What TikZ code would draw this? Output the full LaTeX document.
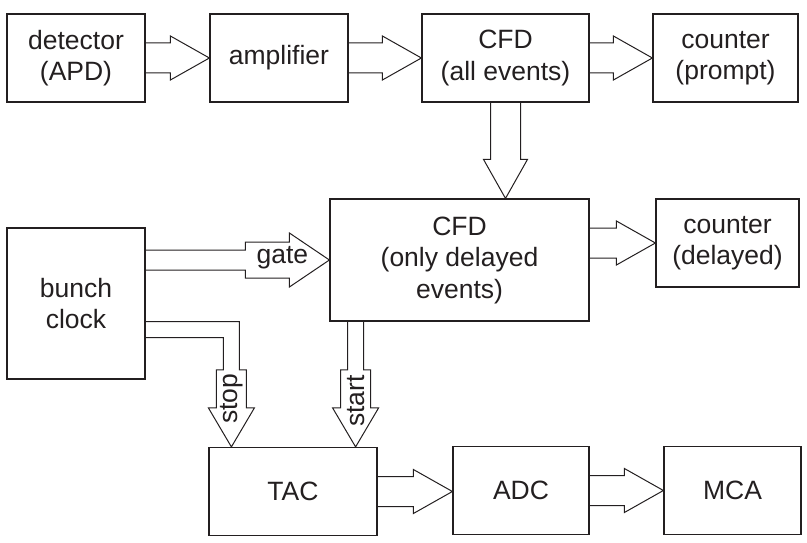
\documentclass[tikz,border=0pt]{standalone}
\usepackage{fontspec}
\setmainfont{Liberation Sans}
\usetikzlibrary{calc}

\definecolor{ink}{RGB}{35,31,32}

\tikzset{
  box/.style={draw=ink, line width=1.2pt, minimum height=88pt, inner sep=0pt,
    align=center, text=ink, font=\fontsize{26.5}{31.5}\selectfont},
  blockarrow/.style={draw=ink, line width=1pt, line join=miter},
  arrowlabel/.style={inner sep=0pt, text=ink, font=\fontsize{26.5}{31.5}\selectfont},
}

% hollow block arrow from #1 to the tip #2
\newcommand{\blockarrow}[2]{%
  \path (#1) coordinate (ba-s) (#2) coordinate (ba-e);
  \path ($(ba-e)!39pt!(ba-s)$) coordinate (ba-h);
  \draw[blockarrow] ($(ba-s)!15pt!90:(ba-e)$) -- ($(ba-h)!15pt!-90:(ba-s)$)
    -- ($(ba-h)!22pt!-90:(ba-s)$) -- (ba-e) -- ($(ba-h)!22pt!90:(ba-s)$)
    -- ($(ba-h)!15pt!90:(ba-s)$) -- ($(ba-s)!15pt!-90:(ba-e)$);
}

\begin{document}
\begin{tikzpicture}[x=1pt,y=-1pt]
    \useasboundingbox (0,0) rectangle (807,543);

    % top row
    \node[box, minimum width=138pt] (det) at (76,58) {detector\\(APD)};
    \node[box, minimum width=138pt] (amp) at (279,58) {amplifier};
    \node[box, minimum width=167pt] (cfdall) at (505.5,58) {CFD\\(all events)};
    \node[box, minimum width=145pt] (cntp) at (725.5,58) {counter\\(prompt)};

    % middle row
    \node[box, minimum width=138pt, minimum height=151pt] (clock) at (76,303.5) {bunch\\clock};
    \node[box, minimum width=259pt, minimum height=122pt] (cfdd) at (459.5,260) {CFD\\(only delayed\\events)};
    \node[box, minimum width=143pt] (cntd) at (727.5,243) {counter\\(delayed)};

    % bottom row
    \node[box, minimum width=168pt] (tac) at (293,491.5) {TAC};
    \node[box, minimum width=136pt] (adc) at (521,490.5) {ADC};
    \node[box, minimum width=137pt] (mca) at (732.5,490.5) {MCA};

    % plain arrows
    \blockarrow{det.east}{amp.west}
    \blockarrow{amp.east}{cfdall.west}
    \blockarrow{cfdall.east}{cntp.west}
    \blockarrow{cfdall.south}{cfdall.south |- cfdd.north}
    \blockarrow{cfdd.east |- cntd.west}{cntd.west}
    \blockarrow{tac.east}{tac.east -| adc.west}
    \blockarrow{adc.east}{mca.west}

    % gate
    \coordinate (gs) at (clock.east |- cfdd.west);
    \draw[blockarrow] ($(gs)+(0,-10)$) -- ($(cfdd.west)+(-84,-10)$)
      -- ($(cfdd.west)+(-84,-18)$) -- ($(cfdd.west)+(-40,-18)$)
      -- ($(cfdd.west)+(-40,-27)$) -- (cfdd.west) -- ($(cfdd.west)+(-40,27)$)
      -- ($(cfdd.west)+(-40,18)$) -- ($(cfdd.west)+(-84,18)$)
      -- ($(cfdd.west)+(-84,10)$) -- ($(gs)+(0,10)$);
    \node[arrowlabel] (gate) at ($(cfdd.west)+(-47,-2)$) {gate};

    % stop
    \coordinate (stoptip) at ($(tac.north west)+(23,0)$);
    \draw[blockarrow] ($(clock.east)+(0,18)$) -- ($(stoptip |- clock.east)+(8,18)$)
      -- ($(stoptip)+(8,-77)$) -- ($(stoptip)+(15,-77)$) -- ($(stoptip)+(15,-39)$)
      -- ($(stoptip)+(23,-39)$) -- (stoptip) -- ($(stoptip)+(-23,-39)$)
      -- ($(stoptip)+(-15,-39)$) -- ($(stoptip)+(-15,-77)$) -- ($(stoptip)+(-8,-77)$)
      -- ($(stoptip |- clock.east)+(-8,34)$) -- ($(clock.east)+(0,34)$);
    \node[arrowlabel, rotate=90] (stop) at ($(stoptip)+(0,-48)$) {stop};

    % start
    \coordinate (starttip) at ($(tac.north east)+(-22,0)$);
    \draw[blockarrow] ($(starttip |- cfdd.south)+(-8,0)$)
      -- ($(starttip)+(-8,-77)$) -- ($(starttip)+(-15,-77)$) -- ($(starttip)+(-15,-39)$)
      -- ($(starttip)+(-23,-39)$) -- (starttip) -- ($(starttip)+(23,-39)$)
      -- ($(starttip)+(15,-39)$) -- ($(starttip)+(15,-77)$) -- ($(starttip)+(8,-77)$)
      -- ($(starttip |- cfdd.south)+(8,0)$);
    \node[arrowlabel, rotate=90] (start) at ($(starttip)+(0,-46)$) {start};

\end{tikzpicture}
\end{document}
